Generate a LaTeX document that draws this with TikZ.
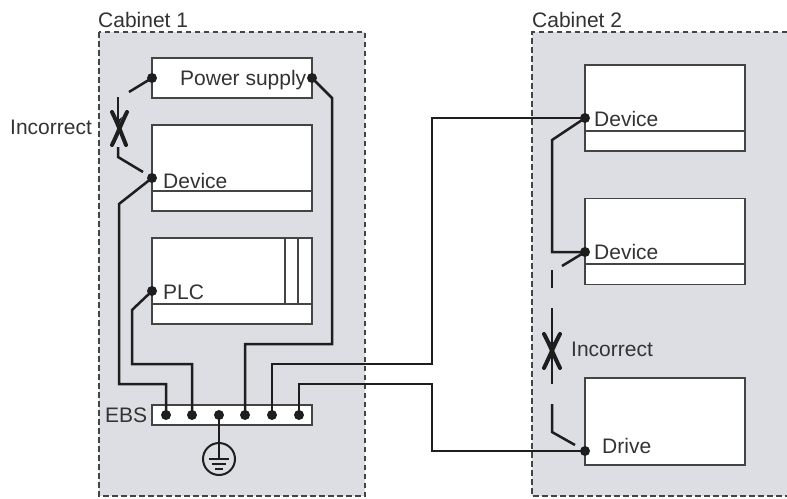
\documentclass[tikz,border=0pt]{standalone}
\usepackage{fontspec}
\setmainfont{Liberation Sans}
\usetikzlibrary{arrows.meta}
\definecolor{cabfill}{HTML}{DCDEE3}
\definecolor{ink}{HTML}{1E1E1E}
\definecolor{boxline}{HTML}{444444}
\definecolor{txt}{HTML}{333333}
\tikzset{
  x=1pt,y=-1pt,
  box/.style={draw=boxline,line width=1.5pt,fill=white,rectangle,inner sep=0pt,outer sep=0pt},
  inner/.style={draw=boxline,line width=1.2pt},
  cab/.style={draw=boxline,line width=1.3pt,dash pattern=on 5.5pt off 3.5pt,fill=cabfill},
  wire/.style={draw=ink,line width=2.5pt,line join=miter},
  bad/.style={draw=ink,line width=2.5pt},
  head/.style={-{Stealth[length=10pt,width=8pt]}},
  cross/.style={draw=ink,line width=4pt,line cap=round},
  term/.style={circle,fill=ink,inner sep=0pt,minimum size=10pt,outer sep=0pt},
  lbl/.style={font=\fontsize{21}{23}\selectfont,text=txt,inner sep=0pt,anchor=base west},
}
\begin{document}
\begin{tikzpicture}
\useasboundingbox (0,0) rectangle (787,498);
\fill[white] (0,0) rectangle (787,498);
% cabinets
\path[cab] (99,32) rectangle (365,496);
\fill[cabfill] (532,32) rectangle (787,496);
\draw[cab,fill=none] (787,32) -- (532,32) -- (532,496) -- (787,496);
\node[lbl] (cab1) at (98,27) {Cabinet 1};
\node[lbl] (cab2) at (532,27) {Cabinet 2};
% boxes
\node[box,minimum width=160pt,minimum height=40pt] (ps) at (232,78) {};
\node[box,minimum width=160pt,minimum height=86pt] (dev1) at (232,168) {};
\node[box,minimum width=160pt,minimum height=86pt] (plc) at (232,281) {};
\node[box,minimum width=160pt,minimum height=20pt] (ebs) at (232,415) {};
\node[box,minimum width=160pt,minimum height=86pt] (dev2) at (665,108) {};
\node[box,minimum width=160pt,minimum height=86pt] (dev3) at (665,241.5) {};
\node[box,minimum width=160pt,minimum height=87pt] (drv) at (665,421.5) {};
\draw[inner] (152,191) -- (312,191);
\draw[inner] (152,304) -- (312,304);
\draw[inner] (285,238) -- (285,304);
\draw[inner] (298,238) -- (298,304);
\draw[inner] (585,131) -- (745,131);
\draw[inner] (585,264) -- (745,264);
% labels
\node[lbl] (tps) at (180,85) {Power supply};
\node[lbl] (tdev1) at (163,188) {Device};
\node[lbl] (tplc) at (163,299) {PLC};
\node[lbl] (tdev2) at (594,126) {Device};
\node[lbl] (tdev3) at (594,259) {Device};
\node[lbl] (tdrv) at (602,453) {Drive};
\node[lbl] (tebs) at (105,422) {EBS};
\node[lbl] (tbad1) at (10,134) {Incorrect};
\node[lbl] (tbad2) at (571,356) {Incorrect};
% terminals
\node[term] (a) at (152,78) {};
\node[term] (b) at (312,78) {};
\node[term] (c) at (152,178) {};
\node[term] (d) at (152,291) {};
\node[term] (e) at (585,118) {};
\node[term] (f) at (585,252) {};
\node[term] (g) at (585,451) {};
\node[term] (e1) at (166,415) {};
\node[term] (e2) at (192,415) {};
\node[term] (e3) at (219,415) {};
\node[term] (e4) at (245,415) {};
\node[term] (e5) at (272,415) {};
\node[term] (e6) at (299,415) {};
% wires
\draw[wire] (c.center) -- (119,204) -- (119,384) -- (166,384) -- (e1.center);
\draw[wire] (d.center) -- (132,310) -- (132,364) -- (192,364) -- (e2.center);
\draw[wire] (b.center) -- (332,98) -- (332,344) -- (245,344) -- (e4.center);
\draw[wire] (e.center) -- (432,118) -- (432,364) -- (272,364) -- (e5.center);
\draw[wire] (g.center) -- (432,451) -- (432,384) -- (299,384) -- (e6.center);
\draw[wire] (e.center) -- (552,140) -- (552,252) -- (f.center);
% incorrect links, cabinet 1
\coordinate (x1) at (118,127);
\coordinate (a1) at (129,92);
\coordinate (a2) at (118,97);
\coordinate (c1) at (143,172);
\coordinate (c2) at (118,157);
\coordinate (c3) at (118,147);
\draw[bad] (a.center) -- (a1);
\draw[bad,head] (a2) -- (x1);
\draw[bad] (c1) -- (c2) -- (c3);
\draw[cross] (112,112) .. controls (117,122) and (122,135) .. (126,145);
\draw[cross] (127,112) .. controls (122,122) and (117,135) .. (112,145);
% incorrect links, cabinet 2
\coordinate (x2) at (552,350);
\coordinate (f1) at (562,266);
\coordinate (f2) at (552,270);
\coordinate (f3) at (552,288);
\coordinate (f4) at (552,308);
\coordinate (g1) at (575,445);
\coordinate (g2) at (552,432);
\coordinate (g3) at (552,404);
\coordinate (g4) at (552,384);
\draw[bad] (f.center) -- (f1);
\draw[bad] (f2) -- (f3);
\draw[bad,head] (f4) -- (x2);
\draw[bad] (g1) -- (g2) -- (g3);
\draw[bad,head] (g4) -- (x2);
\draw[cross] (544,334) .. controls (549,343) and (555,358) .. (560,368);
\draw[cross] (560,334) .. controls (555,343) and (549,358) .. (544,368);
% earth
\node[circle,draw=ink,line width=2pt,minimum size=32pt,inner sep=0pt] (gnd) at (219,459) {};
\coordinate (gt) at (219,459);
\draw[wire] (e3.center) -- (gt);
\draw[ink,line width=1.8pt] (209,459) -- (229,459);
\draw[ink,line width=1.8pt] (212,464) -- (226,464);
\draw[ink,line width=1.8pt] (215,469) -- (223,469);
\end{tikzpicture}
\end{document}
